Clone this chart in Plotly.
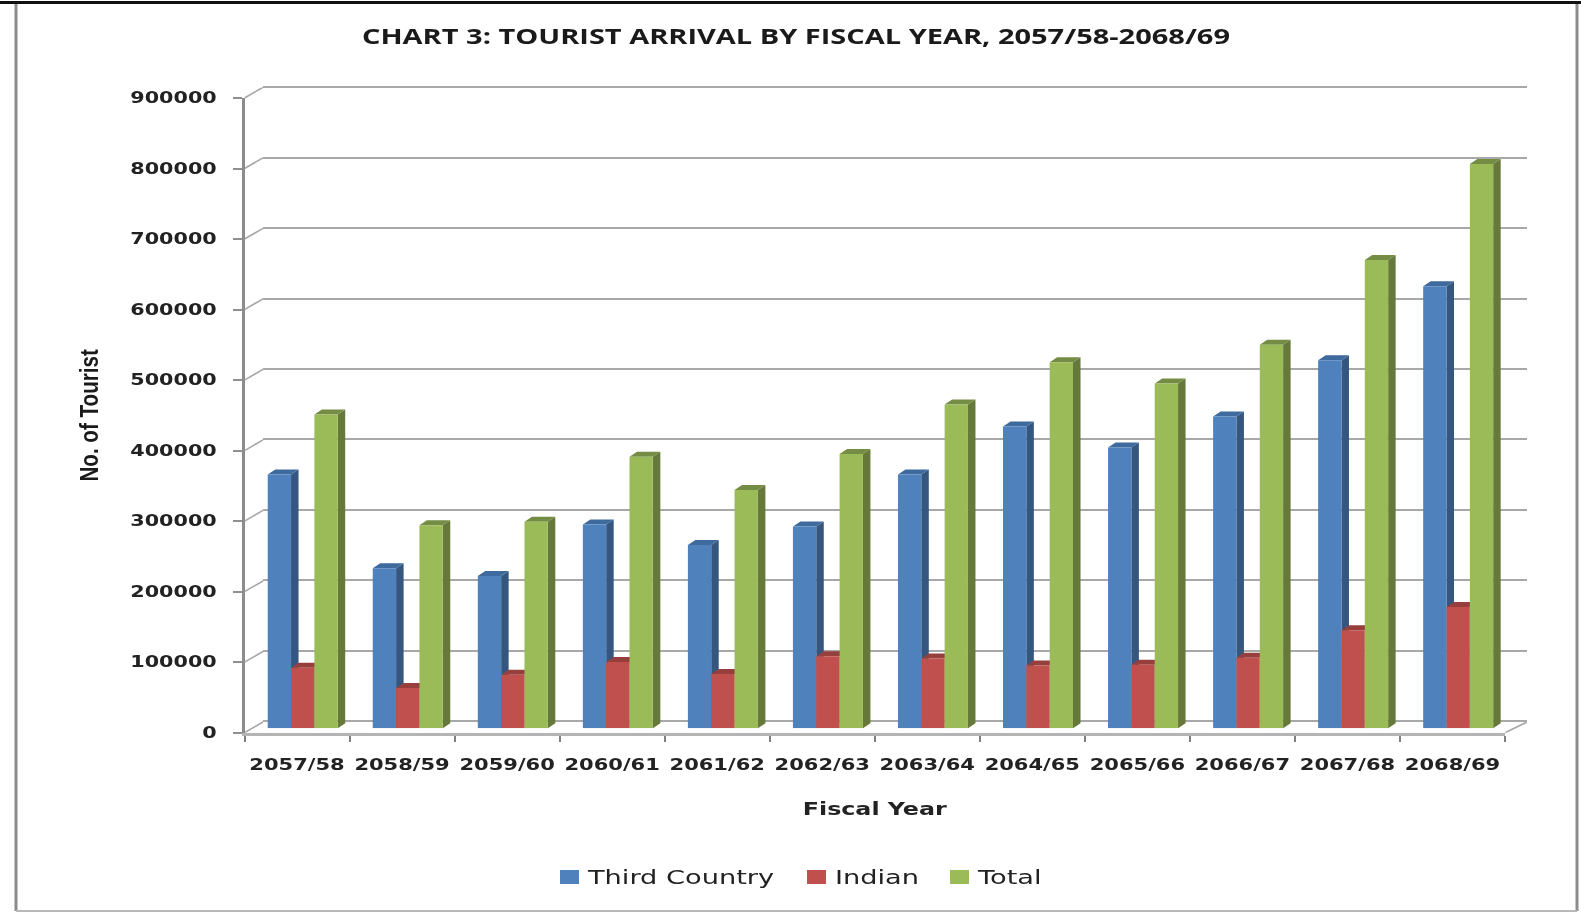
import plotly.graph_objects as go

years = ["2057/58", "2058/59", "2059/60", "2060/61", "2061/62", "2062/63",
         "2063/64", "2064/65", "2065/66", "2066/67", "2067/68", "2068/69"]
third_country = [360000, 227000, 216000, 289000, 260000, 286000, 360000, 428000, 398000, 442000, 522000, 627000]
indian = [86000, 57000, 76000, 94000, 77000, 102000, 99000, 89000, 90000, 100000, 139000, 172000]
total = [445000, 288000, 293000, 385000, 338000, 389000, 459000, 519000, 489000, 544000, 664000, 800000]
y_ticks = [0, 100000, 200000, 300000, 400000, 500000, 600000, 700000, 800000, 900000]

W, H = 1581, 918
AX_L, AX_R, AX_T, AX_B = 244.5, 1505.0, 98.0, 732.7
PX_X = (AX_R - AX_L) / 12
PX_Y = (AX_B - AX_T) / 900000
BAR_DX, BAR_DY = 5.7, 4.4
WALL_L, WALL_R, WALL_T, WALL_B = 263.0, 1527.0, 87.3, 721.0
WALL_DY = AX_T - WALL_T
DEPTH_X, DEPTH_Y = 7.5 / PX_X, 5.0 / PX_Y
GROUP = 70.0 / PX_X
BAR_W = GROUP / 3
WALL_PAD = 10000

def dom_x(a, b):
    return [a / W, b / W]

def dom_y(top, bottom):
    return [1 - bottom / H, 1 - top / H]

series = [
    ("Third Country", third_country, "#4F81BD", "#34567F", "#3F6A9E"),
    ("Indian", indian, "#C0504D", "#8A3A38", "#973F3C"),
    ("Total", total, "#9BBB59", "#66783A", "#748C44"),
]

fig = go.Figure()

# back wall subplot (gridlines only)
fig.add_trace(go.Scatter(x=[0], y=[0], xaxis="x", yaxis="y", mode="markers",
                         marker=dict(opacity=0), showlegend=False, hoverinfo="skip"))

# 3D side and top faces, computed from the values
for s, (name, vals, front, side, top) in enumerate(series):
    sx, sy, tx, ty = [], [], [], []
    for i, v in enumerate(vals):
        xl = i - GROUP / 2 + s * BAR_W
        xr = xl + BAR_W
        sx += [xr, xr + DEPTH_X, xr + DEPTH_X, xr, None]
        sy += [0, DEPTH_Y, v + DEPTH_Y, v, None]
        tx += [xl, xl + DEPTH_X, xr + DEPTH_X, xr, None]
        ty += [v, v + DEPTH_Y, v + DEPTH_Y, v, None]
    fig.add_trace(go.Scatter(x=sx, y=sy, xaxis="x2", yaxis="y2", mode="lines", fill="toself",
                             fillcolor=side, line=dict(width=0, color=side),
                             showlegend=False, hoverinfo="skip"))
    fig.add_trace(go.Scatter(x=tx, y=ty, xaxis="x2", yaxis="y2", mode="lines", fill="toself",
                             fillcolor=top, line=dict(width=0, color=top),
                             showlegend=False, hoverinfo="skip"))

# front faces
for name, vals, front, side, top in series:
    fig.add_trace(go.Bar(x=years, y=vals, name=name, xaxis="x3", yaxis="y3",
                         marker=dict(color=front, line=dict(width=0))))

# slanted connectors between the front axis and the back wall
wall_dx = (WALL_L - AX_L) / PX_X
wall_dy = WALL_DY / PX_Y
right_dx = (WALL_R - AX_R) / PX_X
cx, cy = [], []
for t in y_ticks:
    cx += [-0.5, -0.5 + wall_dx, None]
    cy += [t, t + wall_dy, None]
cx += [11.5, 11.5 + right_dx, None]
cy += [0, wall_dy, None]
fig.add_trace(go.Scatter(x=cx, y=cy, xaxis="x5", yaxis="y5", mode="lines",
                         line=dict(color="#A6A6A6", width=1.6), showlegend=False, hoverinfo="skip"))
# category axis carrier
fig.add_trace(go.Scatter(x=years, y=[0] * 12, xaxis="x4", yaxis="y4", mode="markers",
                         marker=dict(opacity=0), showlegend=False, hoverinfo="skip"))

tick_font = dict(family="DejaVu Sans", size=15, color="#222222", weight="bold")
wall_px_y = (WALL_B - WALL_T) / 900000

fig.update_layout(
    width=W, height=H, margin=dict(l=0, r=0, t=0, b=0, autoexpand=False),
    paper_bgcolor="white", plot_bgcolor="rgba(0,0,0,0)",
    barmode="group", bargap=1 - GROUP, bargroupgap=0,
    font=dict(family="DejaVu Sans", color="#222222"),
    title=dict(text="<b>CHART 3: TOURIST ARRIVAL BY FISCAL YEAR, 2057/58-2068/69</b>",
               x=796 / W, y=1 - 37 / H, xanchor="center", yanchor="middle",
               font=dict(family="Open Sans", size=21, color="#1a1a1a")),
    xaxis=dict(domain=dom_x(WALL_L, WALL_R), range=[-0.5, 11.5], visible=False, anchor="y"),
    yaxis=dict(domain=dom_y(WALL_T - WALL_PAD * wall_px_y, WALL_B + WALL_PAD * wall_px_y),
               range=[-WALL_PAD, 900000 + WALL_PAD], anchor="x",
               tickvals=y_ticks, showticklabels=False, ticks="", showline=False, zeroline=False,
               showgrid=True, gridcolor="#A8A8A8", gridwidth=2),
    xaxis2=dict(domain=dom_x(AX_L + BAR_DX, AX_R + BAR_DX), range=[-0.5, 11.5], visible=False, anchor="y2"),
    yaxis2=dict(domain=dom_y(AX_T - BAR_DY, AX_B - BAR_DY), range=[0, 900000], visible=False, anchor="x2"),
    xaxis3=dict(domain=dom_x(AX_L + BAR_DX, AX_R + BAR_DX), range=[-0.5, 11.5], type="category",
                categoryorder="array", categoryarray=years, visible=False, anchor="y3"),
    yaxis3=dict(domain=dom_y(AX_T - BAR_DY, AX_B - BAR_DY), range=[0, 900000], visible=False, anchor="x3"),
    xaxis4=dict(domain=dom_x(AX_L, AX_R), range=[-0.5, 11.5], type="category",
                categoryorder="array", categoryarray=years, anchor="y4", tickson="boundaries",
                ticks="outside", ticklen=6, tickwidth=2, tickcolor="#808080",
                showline=True, linecolor="#B4B4B4", linewidth=3, showgrid=False, zeroline=False,
                tickfont=tick_font, ticklabelstandoff=16,
                title=dict(text="<b>Fiscal Year</b>", standoff=30,
                           font=dict(family="DejaVu Sans", size=18, color="#222222"))),
    xaxis5=dict(domain=dom_x(AX_L, WALL_R), range=[-0.5, 11.5 + right_dx], visible=False, anchor="y5"),
    yaxis5=dict(domain=dom_y(AX_T - WALL_DY, AX_B), range=[0, 900000 + wall_dy], visible=False, anchor="x5"),
    yaxis4=dict(domain=dom_y(AX_T, AX_B), range=[0, 900000], anchor="x4",
                tickvals=y_ticks, tickformat="d", ticks="outside", ticklen=9, tickwidth=2, tickcolor="#909090",
                showline=True, linecolor="#8C8C8C", linewidth=2.5, showgrid=False, zeroline=False,
                tickfont=tick_font, ticklabelstandoff=13,
                title=dict(text="<b>No. of Tourist</b>", standoff=49,
                           font=dict(family="Liberation Sans", size=25, color="#1a1a1a"))),
    legend=dict(orientation="h", xref="container", yref="container", x=0, y=1 - 877 / H,
                xanchor="left", yanchor="middle",
                font=dict(family="DejaVu Sans", size=20, color="#222222"), itemwidth=30,
                bgcolor="rgba(0,0,0,0)"),
    shapes=[
        dict(type="line", xref="paper", yref="paper", x0=0, x1=1, y0=1 - 2.5 / H, y1=1 - 2.5 / H,
             line=dict(color="#111111", width=3)),
        dict(type="line", xref="paper", yref="paper", x0=16 / W, x1=16 / W, y0=1 - 911 / H, y1=1 - 4 / H,
             line=dict(color="#8C8C8C", width=3)),
        dict(type="line", xref="paper", yref="paper", x0=1577 / W, x1=1577 / W, y0=1 - 911 / H, y1=1 - 4 / H,
             line=dict(color="#8C8C8C", width=3)),
        dict(type="line", xref="paper", yref="paper", x0=16 / W, x1=1577 / W, y0=1 - 911 / H, y1=1 - 911 / H,
             line=dict(color="#B8B8B8", width=2)),
    ],
)

post = """
document.body.style.margin = '0';
document.documentElement.style.overflow = 'hidden';
function stretch(sel, f) {
  document.querySelectorAll(sel).forEach(function (t) {
    var w = t.getComputedTextLength();
    t.setAttribute('textLength', w * f);
    t.setAttribute('lengthAdjust', 'spacingAndGlyphs');
  });
}
stretch('.x4tick text', 1.40);
stretch('.y4tick text', 1.38);
stretch('.gtitle', 1.38);
stretch('.x4title', 1.32);
stretch('.y4title', 0.825);
stretch('.legendtext', 1.36);
var lg = document.querySelector('.legend');
lg.setAttribute('transform', 'translate(0,877)');
var sb = lg.querySelector('.scrollbox');
sb.removeAttribute('clip-path');
sb.setAttribute('transform', 'translate(0,0)');
var bg = lg.querySelector('.bg'); if (bg) bg.style.display = 'none';
var lx = [560, 807, 950];
lg.querySelectorAll('.traces').forEach(function (g, i) {
  g.setAttribute('transform', 'translate(' + lx[i] + ',0)');
  g.querySelectorAll('.legendsymbols path').forEach(function (p) {
    p.setAttribute('d', 'M0,-7H19V7H0Z');
    p.setAttribute('transform', 'translate(0,0)');
  });
  var t = g.querySelector('.legendtext');
  t.setAttribute('x', 28);
  t.setAttribute('y', 7);
  var r = g.querySelector('.legendtoggle');
  if (r) r.style.display = 'none';
});
document.querySelectorAll('.svg-container').forEach(function (c) { c.style.filter = 'blur(0.6px)'; });
"""
fig.write_html("out.html", post_script=post, config={"displayModeBar": False})
